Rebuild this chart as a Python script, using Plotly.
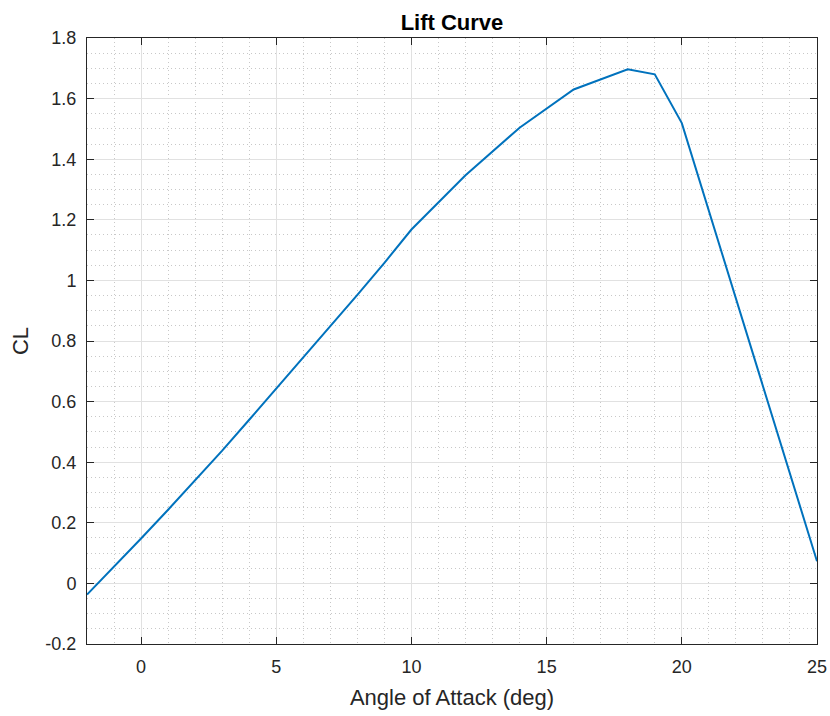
import plotly.graph_objects as go

# Data
alpha = [-2, -1, 0, 1, 2, 3, 4, 5, 6, 7, 8, 9, 10, 12, 14, 16, 18, 19, 20, 25]
cl = [-0.037, 0.055, 0.148, 0.243, 0.340, 0.438, 0.540, 0.643, 0.745, 0.848,
      0.952, 1.058, 1.168, 1.347, 1.504, 1.630, 1.697, 1.680, 1.519, 0.073]

x_tickvals = [0, 5, 10, 15, 20, 25]
x_ticktext = ["0", "5", "10", "15", "20", "25"]
y_tickvals = [-0.2, 0, 0.2, 0.4, 0.6, 0.8, 1.0, 1.2, 1.4, 1.6, 1.8]
y_ticktext = ["-0.2", "0", "0.2", "0.4", "0.6", "0.8", "1", "1.2", "1.4", "1.6", "1.8"]

FONT = "Liberation Sans, Arial, Helvetica, sans-serif"
AXC = "#262626"

fig = go.Figure()
fig.add_trace(go.Scatter(x=alpha, y=cl, mode="lines",
                         line=dict(color="#0072BD", width=2), showlegend=False))

common = dict(showline=True, linecolor=AXC, linewidth=1, mirror="ticks",
              ticks="inside", ticklen=7, tickcolor=AXC, tickwidth=1,
              showgrid=True, gridcolor="#e1e1e1", gridwidth=1,
              zeroline=False, automargin=False, ticklabelstandoff=6,
              tickfont=dict(family=FONT, size=18, color=AXC))

minor_grid = dict(showgrid=True, gridcolor="#c8c8c8", griddash="1px,3px",
                  gridwidth=1, ticks="")

fig.update_xaxes(range=[-2, 25], tickvals=x_tickvals, ticktext=x_ticktext,
                 minor=dict(dtick=1, tick0=0, **minor_grid),
                 title=dict(text="Angle of Attack (deg)",
                            font=dict(family=FONT, size=22, color=AXC), standoff=14),
                 **common)
fig.update_yaxes(range=[-0.2, 1.8], tickvals=y_tickvals, ticktext=y_ticktext,
                 minor=dict(dtick=0.05, tick0=0, **minor_grid),
                 title=dict(text="CL", font=dict(family=FONT, size=22, color=AXC),
                            standoff=10),
                 **common)

fig.update_layout(
    width=830, height=716,
    margin=dict(l=87, r=13, t=38, b=72, autoexpand=False),
    paper_bgcolor="white", plot_bgcolor="white",
    title=dict(text="<b>Lift Curve</b>", x=0.5, xref="paper", xanchor="center",
               y=1 - 22 / 716, yref="container", yanchor="middle",
               font=dict(family=FONT, size=22, color="black")),
)

fig.write_html("out.html")
